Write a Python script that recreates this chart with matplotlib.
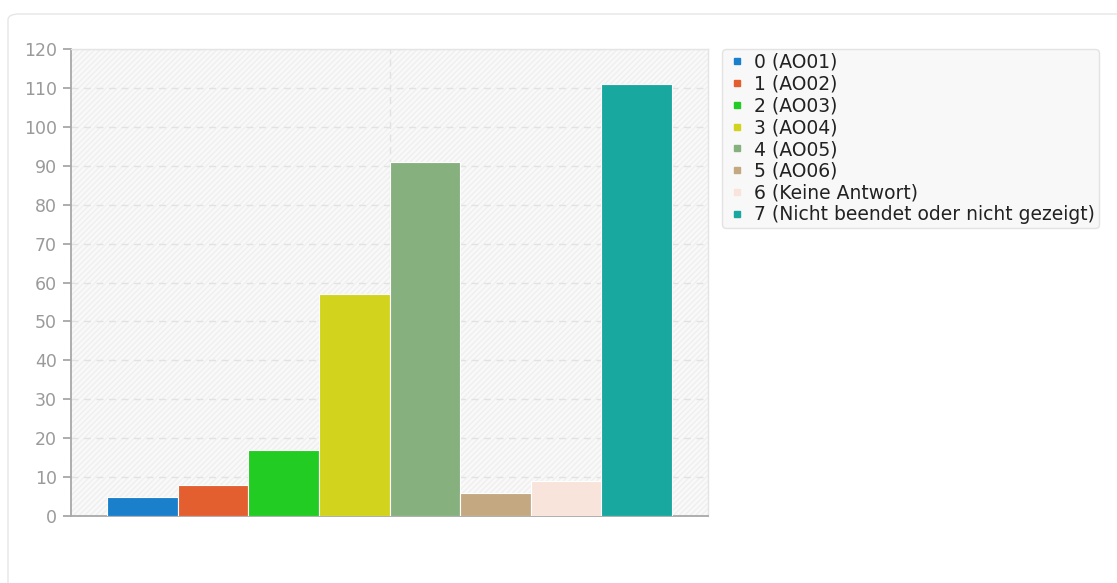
import matplotlib
matplotlib.use("Agg")
import matplotlib.pyplot as plt
from matplotlib.lines import Line2D
from matplotlib.patches import FancyBboxPatch, Rectangle

# answer options and counts
labels = ["0 (AO01)", "1 (AO02)", "2 (AO03)", "3 (AO04)", "4 (AO05)",
          "5 (AO06)", "6 (Keine Antwort)", "7 (Nicht beendet oder nicht gezeigt)"]
counts = [5, 8, 17, 57, 91, 6, 9, 111]
colors = ["#1a80cc", "#e35f30", "#22cc22", "#d1d31c", "#87b07f",
          "#c4a882", "#f8e4da", "#18a8a0"]
yticks = list(range(0, 121, 10))

fig = plt.figure(figsize=(11.17, 5.83), dpi=100)

# outer card
card = FancyBboxPatch((8 / 1117, -0.05), 1.2, (583 - 14) / 583 + 0.05,
                      boxstyle="round,pad=0,rounding_size=0.01",
                      transform=fig.transFigure, facecolor="white",
                      edgecolor="#e6e6e6", linewidth=1.0, zorder=-5)
fig.patches.append(card)

ax = fig.add_axes([71 / 1117, 67 / 583, 637 / 1117, 467 / 583])
ax.set_facecolor("#f9f9f9")

# faint diagonal hatching on the plot background
bg = Rectangle((0, 0), 1, 1, transform=ax.transAxes, facecolor="none",
               edgecolor="#efefef", hatch="//////", linewidth=0, zorder=0)
ax.add_patch(bg)

x = list(range(len(counts)))
ax.bar(x, counts, width=1.0, color=colors, edgecolor="white",
       linewidth=0.8, zorder=3)

ax.set_ylim(0, 120)
ax.set_xlim(-1.01, len(counts) - 1 + 1.01)
ax.set_yticks(yticks)
ax.set_xticks([])
ax.yaxis.grid(True, linestyle=(0, (5, 4)), color="#e2e2e2", linewidth=1.0, zorder=1)
ax.axvline((len(counts) - 1) / 2, linestyle=(0, (5, 4)), color="#e2e2e2",
           linewidth=1.0, zorder=1)

ax.tick_params(axis="y", colors="#a0a0a0", labelsize=12.5, length=6, width=1.2,
               labelcolor="#9a9a9a", pad=4)
for side in ["left", "bottom"]:
    ax.spines[side].set_color("#a8a8a8")
    ax.spines[side].set_linewidth(1.3)
for side in ["top", "right"]:
    ax.spines[side].set_color("#e4e4e4")
    ax.spines[side].set_linewidth(1.0)

# small square markers in the legend
handles = [Line2D([], [], marker="s", linestyle="none", markersize=4.5,
                  markerfacecolor=c, markeredgecolor=c) for c in colors]
leg = fig.legend(handles=handles, labels=labels, loc="upper left",
                 bbox_to_anchor=(722 / 1117, 1 - 49 / 583), fontsize=13.5,
                 handlelength=1.2, handletextpad=0.3,
                 labelspacing=0.15, borderpad=0.2, frameon=True,
                 fancybox=True, shadow=False, borderaxespad=0)
frame = leg.get_frame()
frame.set_facecolor("#f7f7f7")
frame.set_edgecolor("#dddddd")
frame.set_linewidth(1.0)
for t in leg.get_texts():
    t.set_color("#222222")

fig.savefig("out.png", dpi=100)
